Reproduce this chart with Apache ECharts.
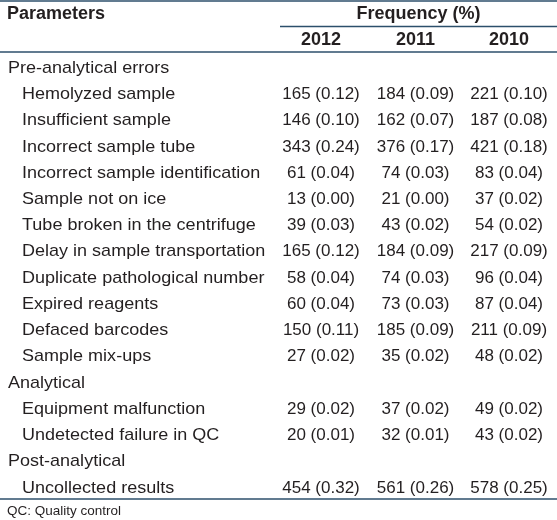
<!DOCTYPE html>
<html>
<head>
<meta charset="utf-8">
<script src="https://cdn.jsdelivr.net/npm/echarts@6/dist/echarts.min.js"></script>
<style>
html,body{margin:0;padding:0;background:#fff;}
#chart{width:557px;height:520px;}
</style>
</head>
<body>
<div id="chart"></div>
<script>
// ---- data ----
var parameters = [
  'Pre-analytical errors',
  'Hemolyzed sample',
  'Insufficient sample',
  'Incorrect sample tube',
  'Incorrect sample identification',
  'Sample not on ice',
  'Tube broken in the centrifuge',
  'Delay in sample transportation',
  'Duplicate pathological number',
  'Expired reagents',
  'Defaced barcodes',
  'Sample mix-ups',
  'Analytical',
  'Equipment malfunction',
  'Undetected failure in QC',
  'Post-analytical',
  'Uncollected results'
];
var isGroup = [1,0,0,0,0,0,0,0,0,0,0,0,1,0,0,1,0];
var years = ['2012', '2011', '2010'];
var count2012 = [null,165,146,343,61,13,39,165,58,60,150,27,null,29,20,null,454];
var pct2012   = [null,0.12,0.10,0.24,0.04,0.00,0.03,0.12,0.04,0.04,0.11,0.02,null,0.02,0.01,null,0.32];
var count2011 = [null,184,162,376,74,21,43,184,74,73,185,35,null,37,32,null,561];
var pct2011   = [null,0.09,0.07,0.17,0.03,0.00,0.02,0.09,0.03,0.03,0.09,0.02,null,0.02,0.01,null,0.26];
var count2010 = [null,221,187,421,83,37,54,217,96,87,211,48,null,49,43,null,578];
var pct2010   = [null,0.10,0.08,0.18,0.04,0.02,0.02,0.09,0.04,0.04,0.09,0.02,null,0.02,0.02,null,0.25];
var headerParam = 'Parameters';
var headerFreq = 'Frequency (%)';
var footnote = 'QC: Quality control';

// ---- layout ----
var FONT = '"Liberation Sans", Arial, Helvetica, sans-serif';
var TXT = '#231f20';
var LINE = '#2c4f6b';
var HFONT = 'bold 18px ' + FONT;
var colCenters = [321, 415.5, 509];
var counts = [count2012, count2011, count2010];
var pcts = [pct2012, pct2011, pct2010];

var rows = parameters.map(function (p, i) { return [i]; });

function cellText(c, p) {
  return c + ' (' + p.toFixed(2) + ')';
}

var chart = echarts.init(document.getElementById('chart'), null, {renderer: 'canvas'});
chart.setOption({
  backgroundColor: '#fff',
  animation: false,
  grid: {left: 0, right: 0, top: 55, bottom: 19},
  xAxis: {type: 'value', min: 0, max: 557, show: false},
  yAxis: {type: 'category', data: parameters, inverse: true, show: false},
  graphic: [
    {type: 'line', shape: {x1: 0, y1: 1, x2: 557, y2: 1}, style: {stroke: LINE, lineWidth: 1.4}},
    {type: 'line', shape: {x1: 280, y1: 26.5, x2: 557, y2: 26.5}, style: {stroke: LINE, lineWidth: 1.4}},
    {type: 'line', shape: {x1: 0, y1: 52, x2: 557, y2: 52}, style: {stroke: LINE, lineWidth: 1.4}},
    {type: 'line', shape: {x1: 0, y1: 499, x2: 557, y2: 499}, style: {stroke: LINE, lineWidth: 1.4}},
    {type: 'text', x: 7, y: 14, style: {text: headerParam, fill: TXT, font: HFONT, textAlign: 'left', textVerticalAlign: 'middle'}},
    {type: 'text', x: 418.5, y: 14, style: {text: headerFreq, fill: TXT, font: HFONT, textAlign: 'center', textVerticalAlign: 'middle'}},
    {type: 'text', x: colCenters[0], y: 40, style: {text: years[0], fill: TXT, font: HFONT, textAlign: 'center', textVerticalAlign: 'middle'}},
    {type: 'text', x: colCenters[1], y: 40, style: {text: years[1], fill: TXT, font: HFONT, textAlign: 'center', textVerticalAlign: 'middle'}},
    {type: 'text', x: colCenters[2], y: 40, style: {text: years[2], fill: TXT, font: HFONT, textAlign: 'center', textVerticalAlign: 'middle'}},
    {type: 'text', x: 7, y: 511, style: {text: footnote, fill: TXT, font: '13.5px ' + FONT, textAlign: 'left', textVerticalAlign: 'middle'}}
  ],
  series: [{
    type: 'custom',
    data: rows,
    encode: {y: 0},
    renderItem: function (params, api) {
      var i = api.value(0);
      var base = api.coord([0, i]);
      var y = base[1];
      var children = [];
      var lx = isGroup[i] ? 8 : 22;
      children.push({
        type: 'text', x: lx, y: y, scaleX: 1.06,
        style: {text: parameters[i], fill: TXT, font: '17px ' + FONT, textAlign: 'left', textVerticalAlign: 'middle'}
      });
      for (var k = 0; k < 3; k++) {
        if (counts[k][i] == null) continue;
        var cx = api.coord([colCenters[k], i])[0];
        children.push({
          type: 'text', x: cx, y: y,
          style: {text: cellText(counts[k][i], pcts[k][i]), fill: TXT, font: '17px ' + FONT, textAlign: 'center', textVerticalAlign: 'middle'}
        });
      }
      return {type: 'group', children: children};
    }
  }]
});
</script>
</body>
</html>
